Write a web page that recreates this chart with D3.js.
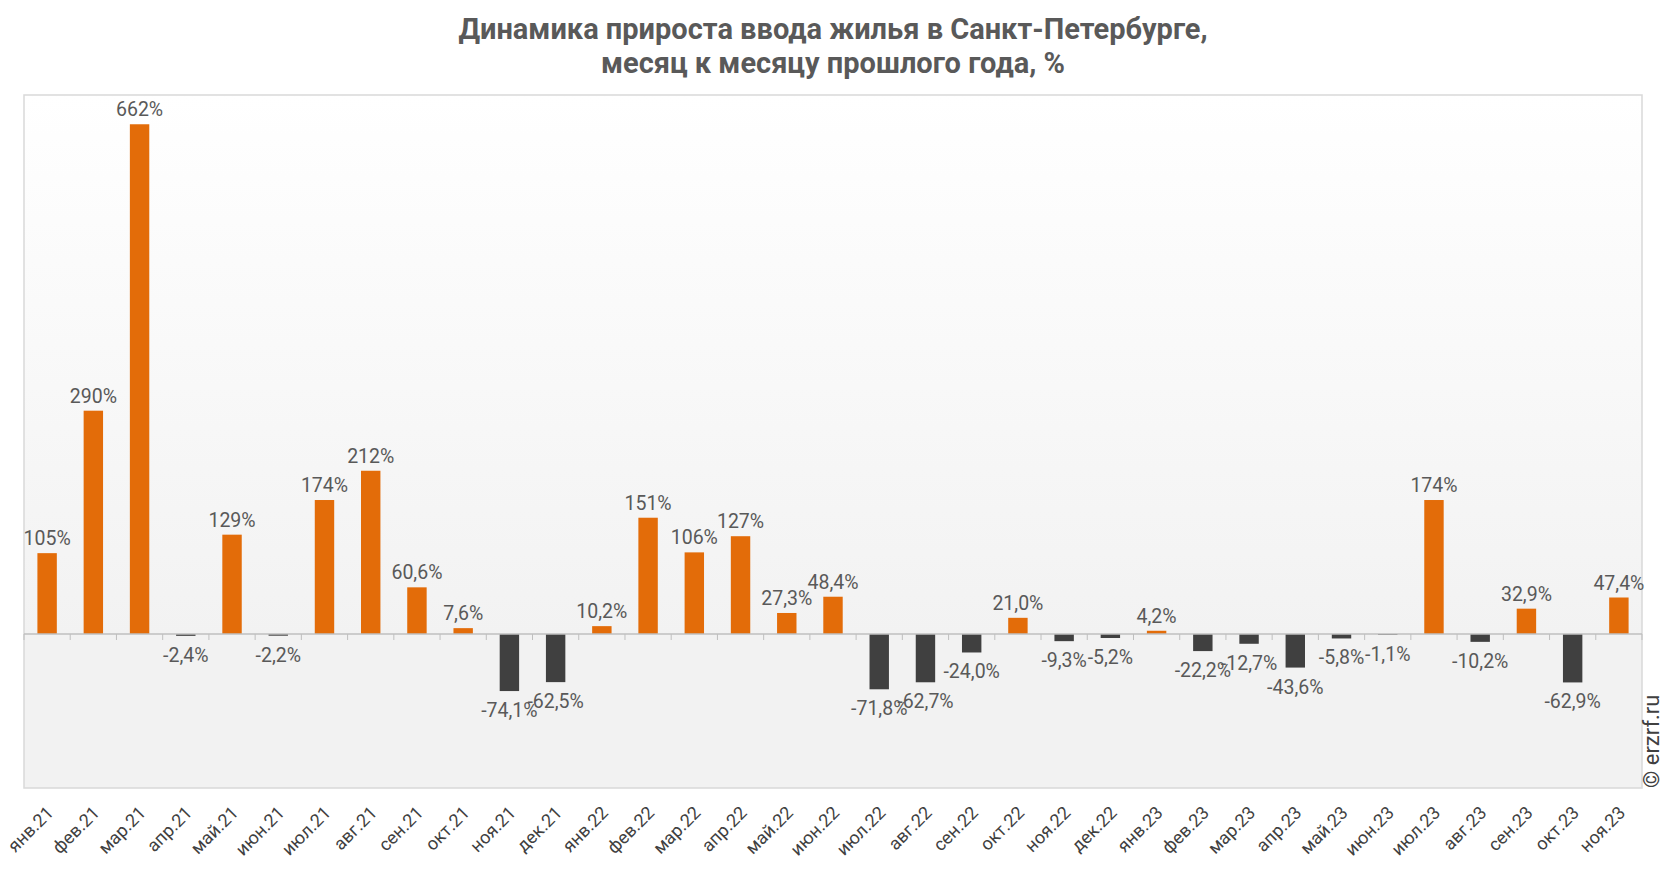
<!DOCTYPE html>
<html><head><meta charset="utf-8">
<script src="https://cdn.jsdelivr.net/npm/d3@7"></script>
<style>body{margin:0;background:#fff}svg{display:block}</style>
</head><body>
<script>
const categories = ["янв.21","фев.21","мар.21","апр.21","май.21","июн.21","июл.21","авг.21","сен.21","окт.21","ноя.21","дек.21","янв.22","фев.22","мар.22","апр.22","май.22","июн.22","июл.22","авг.22","сен.22","окт.22","ноя.22","дек.22","янв.23","фев.23","мар.23","апр.23","май.23","июн.23","июл.23","авг.23","сен.23","окт.23","ноя.23"];
const values = [105,290,662,-2.4,129,-2.2,174,212,60.6,7.6,-74.1,-62.5,10.2,151,106,127,27.3,48.4,-71.8,-62.7,-24.0,21.0,-9.3,-5.2,4.2,-22.2,-12.7,-43.6,-5.8,-1.1,174,-10.2,32.9,-62.9,47.4];
const titleLines = ["Динамика прироста ввода жилья в Санкт-Петербурге,","месяц к месяцу прошлого года, %"];
const yDomain = [-200, 700];

const W = 1666, H = 872;
const plot = {left: 24, top: 95, right: 1642, bottom: 788};
const svg = d3.select("body").append("svg").attr("width", W).attr("height", H);
const defs = svg.append("defs");
const grad = defs.append("linearGradient").attr("id","bg").attr("x1",0).attr("y1",0).attr("x2",0).attr("y2",1);
grad.append("stop").attr("offset","0%").attr("stop-color","#ffffff");
grad.append("stop").attr("offset","78%").attr("stop-color","#f2f2f2");
grad.append("stop").attr("offset","100%").attr("stop-color","#f2f2f2");

svg.append("rect").attr("x", plot.left).attr("y", plot.top)
  .attr("width", plot.right-plot.left).attr("height", plot.bottom-plot.top)
  .attr("fill","url(#bg)").attr("stroke","#d9d9d9").attr("stroke-width",1.5);

const x = d3.scaleBand().domain(categories).range([plot.left, plot.right]).paddingInner(0.58).paddingOuter(0.29);
const y = d3.scaleLinear().domain(yDomain).range([plot.bottom, plot.top]);

const fmt = v => (Math.abs(v) >= 100 ? d3.format(".0f")(v) : d3.format(".1f")(v)).replace(".", ",").replace("\u2212", "-") + "%";

// bars
svg.append("g").selectAll("rect").data(values).join("rect")
  .attr("x", (d,i) => x(categories[i]))
  .attr("width", x.bandwidth())
  .attr("y", d => y(Math.max(0,d)))
  .attr("height", d => Math.abs(y(d)-y(0)))
  .attr("fill", d => d >= 0 ? "#e36c09" : "#404040");

// zero axis with category boundary ticks
const axisG = svg.append("g");
axisG.append("line").attr("x1", plot.left).attr("x2", plot.right).attr("y1", y(0)).attr("y2", y(0))
  .attr("stroke","#bfbfbf").attr("stroke-width",1.5);
const bounds = d3.range(categories.length+1).map(i => plot.left + i*(plot.right-plot.left)/categories.length);
axisG.selectAll("line.tick").data(bounds).join("line").attr("class","tick")
  .attr("x1", d=>d).attr("x2", d=>d).attr("y1", y(0)).attr("y2", y(0)+6)
  .attr("stroke","#bfbfbf").attr("stroke-width",1);

// value labels
svg.append("g").selectAll("text").data(values).join("text")
  .attr("x", (d,i) => x(categories[i]) + x.bandwidth()/2)
  .attr("y", d => d >= 0 ? y(d) - 8 : y(d) + 26)
  .attr("text-anchor","middle")
  .attr("font-family","Roboto, sans-serif").attr("font-size",19.5).attr("fill","#595959")
  .text(d => fmt(d));

// x labels
svg.append("g").selectAll("text").data(categories).join("text")
  .attr("transform", d => `translate(${x(d)+x.bandwidth()/2-1.5},${plot.bottom+17}) rotate(-45)`)
  .attr("text-anchor","end").attr("dy","0.7em")
  .attr("font-family","Roboto, sans-serif").attr("font-size",18).attr("fill","#404040")
  .text(d => d);

// title
svg.append("g").selectAll("text").data(titleLines).join("text")
  .attr("x", 833).attr("y", (d,i) => 39 + i*34)
  .attr("text-anchor","middle").attr("font-family","Roboto, sans-serif").attr("font-weight","bold")
  .attr("font-size",29).attr("fill","#595959").text(d=>d);

// copyright
svg.append("text").attr("transform", `translate(1659,${plot.bottom}) rotate(-90)`)
  .attr("font-family","Roboto, sans-serif").attr("font-size",22).attr("fill","#404040")
  .text("© erzrf.ru");
</script>
</body></html>
